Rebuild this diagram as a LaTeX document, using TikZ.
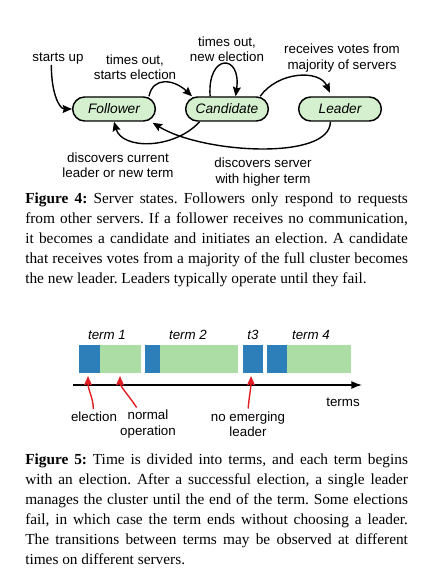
\documentclass[tikz,border=0pt]{standalone}
\usepackage{fontspec}
\setmainfont{Liberation Serif}
\setsansfont{Liberation Sans}
\usetikzlibrary{arrows.meta}
\frenchspacing

\definecolor{stategreen}{RGB}{213,240,207}
\definecolor{termblue}{RGB}{44,127,184}
\definecolor{termgreen}{RGB}{172,221,165}
\definecolor{markred}{RGB}{225,30,35}

\begin{document}
\begin{tikzpicture}[x=0.75pt,y=0.75pt,yscale=-1,xscale=1,
  state/.style={draw, line width=1.1pt, fill=stategreen, rounded corners=9pt, minimum width=62pt, minimum height=18pt, inner sep=0pt, font=\sffamily\itshape\fontsize{10.3}{12}\selectfont},
  lbl/.style={inner sep=0pt, align=center, font=\sffamily\fontsize{10}{11.5}\selectfont},
  termlbl/.style={inner sep=0pt, font=\sffamily\itshape\fontsize{10}{12}\selectfont},
  trans/.style={line width=1.05pt, -{Stealth[length=7pt,width=6pt,inset=1pt]}},
  redarrow/.style={line width=1.05pt, draw=markred, -{Stealth[length=7pt,width=6pt,inset=1pt]}},
  capt/.style={anchor=base west, inner sep=0pt, text width=287pt, align=justify, font=\fontsize{11.5}{15}\selectfont}]
\useasboundingbox (0,0) rectangle (433,570);

%States
\draw (114,109) node [state] (fol) {Follower};
\draw (227,109) node [state] (cand) {Candidate};
\draw (340,109) node [state] (lead) {Leader};

% Text Node
\draw (58,59) node [lbl] (su) {starts up};
% Text Node
\draw (135,67) node [lbl] (to1) {times out,\\starts election};
% Text Node
\draw (227,49) node [lbl] (to2) {times out,\\new election};
% Text Node
\draw (342,58) node [lbl] (rv) {receives votes from\\majority of servers};
% Text Node
\draw (118,165) node [lbl] (dc) {discovers current\\leader or new term};
% Text Node
\draw (263,172) node [lbl] (ds) {discovers server\\with higher term};

%Curve Lines
\draw [trans] ([xshift=-5pt]su.south) .. controls +(0,30) and +(-12,0) .. (fol.west);
%Curve Lines
\draw [trans] (fol.20) .. controls +(4,-20) and +(-18,-17) .. (cand.160);
%Curve Lines
\draw [trans] (cand.143) .. controls +(-3,-43) and +(6,-43) .. (cand.56);
%Curve Lines
\draw [trans, shorten >=3pt] (cand.21) .. controls +(18,-25) and +(-12,-27) .. (lead.124);
%Curve Lines
\draw [trans] (cand.205) .. controls +(-26,28) and +(8,28) .. (fol.south);
%Curve Lines
\draw [trans, shorten >=1.5pt] (lead.233) .. controls +(0,39) and +(52,32) .. (fol.-19);

% Caption
\draw (25,203.5) node [capt] (cap4) {\textbf{Figure 4:} Server states. Followers only respond to requests\linebreak
from other servers. If a follower receives no communication,\linebreak
it becomes a candidate and initiates an election. A candidate\linebreak
that receives votes from a majority of the full cluster becomes\linebreak
the new leader. Leaders typically operate until they fail.};

%Terms
\fill [termblue] (79,345) rectangle (100,373);
\fill [termgreen] (100,345) rectangle (141,373);
\fill [termblue] (145,345) rectangle (160,373);
\fill [termgreen] (160,345) rectangle (238,373);
\fill [termblue] (243,345) rectangle (263,373);
\fill [termblue] (267,345) rectangle (287,373);
\fill [termgreen] (287,345) rectangle (351,373);

% Text Node
\draw (107,335) node [termlbl] {term 1};
% Text Node
\draw (188,335) node [termlbl] {term 2};
% Text Node
\draw (253,335) node [termlbl] {t3};
% Text Node
\draw (311,335) node [termlbl] {term 4};

%Time axis
\coordinate (t0) at (73,385);
\coordinate (t1) at (362,385);
\draw [line width=1.1pt, -{Latex[length=8pt,width=6pt]}] (t0) -- (t1);
\draw (343,402) node [lbl] (tm) {terms};

% Text Node
\draw (94,417) node [lbl] (el) {election};
% Text Node
\draw (148,424) node [lbl] (no) {normal\\operation};
% Text Node
\draw (248,424) node [lbl] (ne) {no emerging\\leader};

\coordinate (p1) at (88,376);
\coordinate (p2) at (120,376);
\coordinate (p3) at (251,376);
%Curve Lines
\draw [redarrow, shorten <=2pt] ([xshift=-0.5pt]el.north) .. controls +(0,-14) and +(0,14) .. (p1);
%Curve Lines
\draw [redarrow, shorten <=2pt] ([xshift=-7.5pt]no.north) .. controls +(-6,-10) and +(0,10) .. (p2);
%Curve Lines
\draw [redarrow, shorten <=2pt] (ne.north) .. controls +(1,-14) and +(0,12) .. (p3);

% Caption
\draw (25,464) node [capt] (cap5) {\textbf{Figure 5:} Time is divided into terms, and each term begins\linebreak
with an election. After a successful election, a single leader\linebreak
manages the cluster until the end of the term. Some elections\linebreak
fail, in which case the term ends without choosing a leader.\linebreak
The transitions between terms may be observed at different\linebreak
times on different servers.};
\end{tikzpicture}
\end{document}
